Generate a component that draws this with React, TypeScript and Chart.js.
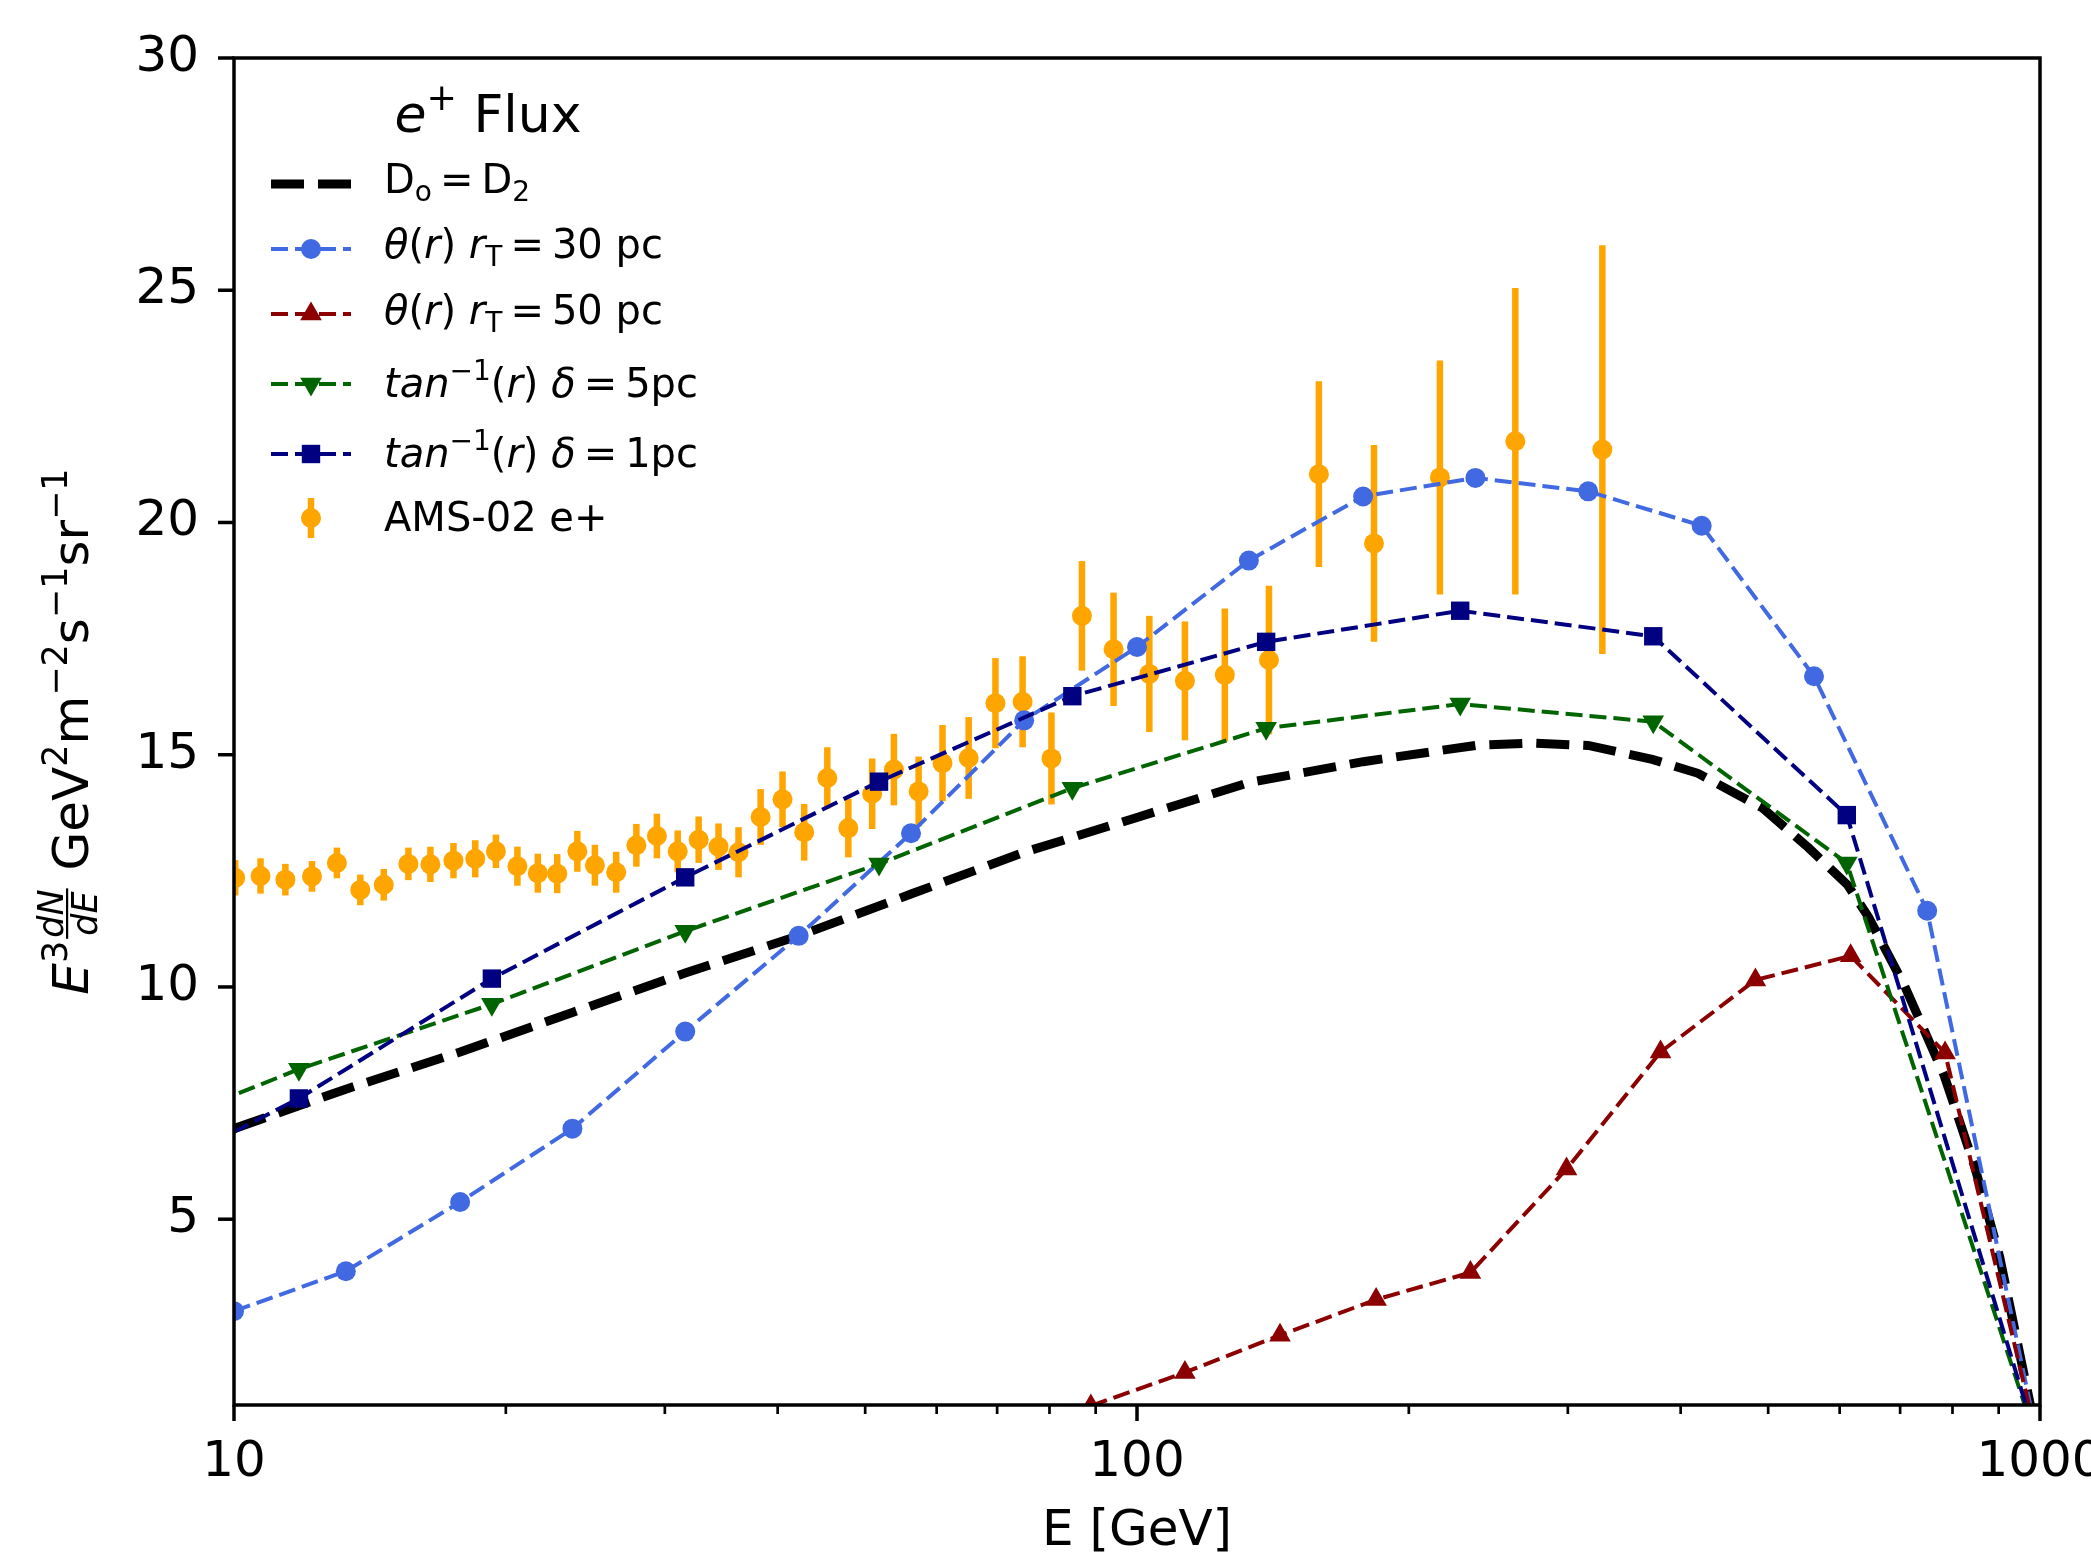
import React, { useEffect, useRef } from 'react';
import { Chart, registerables } from 'chart.js';

Chart.register(...registerables);

const FONT = '"DejaVu Sans", "Liberation Sans", sans-serif';

// ---------------- data ----------------
// D0 = D2 (thick black dashed curve)
const baseE = [10, 13.3, 17.8, 23.7, 31.6, 42.2, 56.2, 75, 100, 133, 178, 237, 273, 316, 372, 418, 493, 554, 612, 646, 707, 783, 846, 902, 1000];
const baseFlux = [6.95, 7.8, 8.6, 9.45, 10.3, 11.1, 12.0, 12.9, 13.65, 14.4, 14.85, 15.2, 15.25, 15.2, 14.9, 14.6, 13.85, 13.0, 12.2, 11.5, 10.05, 8.1, 6.15, 4.2, 0];

// theta(r) r_T = 30 pc
const theta30E = [10, 13.3, 17.8, 23.7, 31.6, 42.2, 56.2, 75, 100, 133, 178, 237, 316, 422, 562, 750, 1000];
const theta30Flux = [3.02, 3.88, 5.37, 6.95, 9.04, 11.1, 13.31, 15.74, 17.32, 19.18, 20.56, 20.96, 20.67, 19.93, 16.69, 11.64, 0];

// theta(r) r_T = 50 pc
const theta50E = [88.9, 113, 144, 184, 234, 299, 380, 484, 617, 785, 1000];
const theta50Flux = [0.98, 1.7, 2.5, 3.27, 3.85, 6.08, 8.6, 10.15, 10.67, 8.58, 0];

// tan^-1(r) models
const atanE = [7.2, 11.8, 19.3, 31.6, 51.8, 84.8, 139, 228, 373, 611, 1000];
const atan5Flux = [6.56, 8.23, 9.63, 11.2, 12.65, 14.28, 15.57, 16.09, 15.71, 12.67, 0];
const atan1Flux = [5.45, 7.6, 10.18, 12.36, 14.42, 16.26, 17.43, 18.1, 17.55, 13.7, 0];

// AMS-02 e+ data
const amsE = [10.03, 10.7, 11.4, 12.2, 13.0, 13.8, 14.65, 15.6, 16.5, 17.5, 18.5, 19.5, 20.6, 21.7, 22.8, 24.0, 25.1, 26.5, 27.9, 29.4, 31.0, 32.7, 34.4, 36.2, 38.3, 40.5, 42.8, 45.4, 47.9, 50.9, 53.8, 57.3, 60.9, 65.1, 69.7, 74.7, 80.4, 86.9, 94.2, 103.2, 113, 125.1, 140, 159, 183, 216.5, 262.4, 327.6];
const amsFlux = [12.35, 12.39, 12.31, 12.38, 12.67, 12.09, 12.2, 12.65, 12.64, 12.72, 12.76, 12.92, 12.6, 12.45, 12.44, 12.92, 12.62, 12.47, 13.05, 13.25, 12.92, 13.17, 13.02, 12.9, 13.66, 14.04, 13.33, 14.5, 13.42, 14.16, 14.68, 14.21, 14.82, 14.93, 16.11, 16.14, 14.92, 17.99, 17.27, 16.74, 16.59, 16.72, 17.04, 21.04, 19.55, 20.97, 21.75, 21.57];
const amsErr = [0.38, 0.38, 0.34, 0.33, 0.33, 0.33, 0.34, 0.35, 0.38, 0.38, 0.4, 0.36, 0.42, 0.42, 0.42, 0.44, 0.44, 0.44, 0.46, 0.48, 0.45, 0.5, 0.5, 0.54, 0.6, 0.6, 0.61, 0.66, 0.63, 0.76, 0.77, 0.75, 0.82, 0.88, 0.97, 0.98, 0.99, 1.18, 1.22, 1.25, 1.28, 1.43, 1.6, 2.0, 2.12, 2.52, 3.3, 4.4];

// ticks
const xMajorTicks = [10, 100, 1000];
const xMinorTicks = [20, 30, 40, 50, 60, 70, 80, 90, 200, 300, 400, 500, 600, 700, 800, 900];
const yTicks = [5, 10, 15, 20, 25, 30];

// ---------------- styles ----------------
const ORANGE = '#FFA500';
const ROYAL = '#4169E1';
const DARKRED = '#8B0000';
const DARKGREEN = '#006400';
const NAVY = '#000080';

type Run = { t?: string; i?: boolean; v?: 'sup' | 'sub'; frac?: [string, string] };

const EQ = '\u2009=\u2009';
const titleRuns: Run[] = [{ t: 'e', i: true }, { t: '+', v: 'sup' }, { t: ' Flux' }];
const yLabelRuns: Run[] = [
  { t: 'E', i: true }, { t: '3', v: 'sup' }, { frac: ['dN', 'dE'], i: true },
  { t: ' GeV' }, { t: '2', v: 'sup' }, { t: 'm' }, { t: '\u22122', v: 'sup' },
  { t: 's' }, { t: '\u22121', v: 'sup' }, { t: 'sr' }, { t: '\u22121', v: 'sup' },
];

type Handle = { kind: 'line' | 'err'; color: string; width?: number; dash?: number[]; marker?: string; r?: number };
const legendRows: { runs: Run[]; h: Handle }[] = [
  { runs: [{ t: 'D' }, { t: 'o', v: 'sub' }, { t: EQ + 'D' }, { t: '2', v: 'sub' }], h: { kind: 'line', color: '#000', width: 9, dash: [33, 14] } },
  { runs: [{ t: '\u03B8', i: true }, { t: '(' }, { t: 'r', i: true }, { t: ') ' }, { t: 'r', i: true }, { t: 'T', v: 'sub' }, { t: EQ + '30 pc' }], h: { kind: 'line', color: ROYAL, width: 4, dash: [17, 7], marker: 'circle', r: 10 } },
  { runs: [{ t: '\u03B8', i: true }, { t: '(' }, { t: 'r', i: true }, { t: ') ' }, { t: 'r', i: true }, { t: 'T', v: 'sub' }, { t: EQ + '50 pc' }], h: { kind: 'line', color: DARKRED, width: 4, dash: [17, 7], marker: 'up', r: 12.5 } },
  { runs: [{ t: 'tan', i: true }, { t: '\u22121', v: 'sup' }, { t: '(' }, { t: 'r', i: true }, { t: ') ' }, { t: '\u03B4', i: true }, { t: EQ + '5pc' }], h: { kind: 'line', color: DARKGREEN, width: 4, dash: [17, 7], marker: 'down', r: 12.5 } },
  { runs: [{ t: 'tan', i: true }, { t: '\u22121', v: 'sup' }, { t: '(' }, { t: 'r', i: true }, { t: ') ' }, { t: '\u03B4', i: true }, { t: EQ + '1pc' }], h: { kind: 'line', color: NAVY, width: 4, dash: [17, 7], marker: 'rect', r: 13 } },
  { runs: [{ t: 'AMS-02 e+' }], h: { kind: 'err', color: ORANGE, r: 10 } },
];

function fontStr(size: number, italic?: boolean) {
  return `${italic ? 'italic ' : ''}${size}px ${FONT}`;
}

function runWidth(ctx: CanvasRenderingContext2D, r: Run, S: number) {
  if (r.frac) {
    ctx.font = fontStr(S * 0.7, r.i);
    return Math.max(ctx.measureText(r.frac[0]).width, ctx.measureText(r.frac[1]).width) + S * 0.12;
  }
  ctx.font = fontStr(r.v ? S * 0.7 : S, r.i);
  return ctx.measureText(r.t || '').width;
}

function drawRuns(ctx: CanvasRenderingContext2D, runs: Run[], x: number, y: number, S: number, align: 'left' | 'center') {
  const widths = runs.map((r) => runWidth(ctx, r, S));
  const total = widths.reduce((a, b) => a + b, 0);
  let cx = align === 'center' ? x - total / 2 : x;
  ctx.fillStyle = '#000';
  ctx.textBaseline = 'alphabetic';
  runs.forEach((r, k) => {
    const w = widths[k];
    if (r.frac) {
      ctx.font = fontStr(S * 0.7, r.i);
      ctx.textAlign = 'center';
      const mid = cx + w / 2;
      ctx.fillText(r.frac[0], mid, y - S * 0.5);
      ctx.fillText(r.frac[1], mid, y + S * 0.17);
      ctx.fillRect(cx + S * 0.04, y - S * 0.42 - 1, w - S * 0.08, 2.2);
    } else {
      ctx.font = fontStr(r.v ? S * 0.7 : S, r.i);
      ctx.textAlign = 'left';
      const dy = r.v === 'sup' ? -S * 0.42 : r.v === 'sub' ? S * 0.2 : 0;
      ctx.fillText(r.t || '', cx, y + dy);
    }
    cx += w;
  });
}

function drawMarker(ctx: CanvasRenderingContext2D, kind: string, x: number, y: number, r: number, color: string) {
  ctx.fillStyle = color;
  ctx.beginPath();
  if (kind === 'circle') {
    ctx.arc(x, y, r, 0, Math.PI * 2);
  } else if (kind === 'up') {
    ctx.moveTo(x, y - r);
    ctx.lineTo(x + 0.866 * r, y + 0.5 * r);
    ctx.lineTo(x - 0.866 * r, y + 0.5 * r);
  } else if (kind === 'down') {
    ctx.moveTo(x, y + r);
    ctx.lineTo(x - 0.866 * r, y - 0.5 * r);
    ctx.lineTo(x + 0.866 * r, y - 0.5 * r);
  } else if (kind === 'rect') {
    const h = Math.SQRT1_2 * r;
    ctx.rect(x - h, y - h, 2 * h, 2 * h);
  }
  ctx.closePath();
  ctx.fill();
}

const bgPlugin = {
  id: 'bg',
  beforeDraw(chart: any) {
    const { ctx, width, height } = chart;
    ctx.save();
    ctx.fillStyle = '#fff';
    ctx.fillRect(0, 0, width, height);
    ctx.restore();
  },
};

const errorBarPlugin = {
  id: 'errBars',
  beforeDatasetsDraw(chart: any) {
    const { ctx, chartArea, scales } = chart;
    ctx.save();
    ctx.beginPath();
    ctx.rect(chartArea.left, chartArea.top, chartArea.right - chartArea.left, chartArea.bottom - chartArea.top);
    ctx.clip();
    ctx.strokeStyle = ORANGE;
    ctx.lineWidth = 6.5;
    amsE.forEach((e, k) => {
      const px = scales.x.getPixelForValue(e);
      ctx.beginPath();
      ctx.moveTo(px, scales.y.getPixelForValue(amsFlux[k] - amsErr[k]));
      ctx.lineTo(px, scales.y.getPixelForValue(amsFlux[k] + amsErr[k]));
      ctx.stroke();
    });
    ctx.restore();
  },
};

const framePlugin = {
  id: 'frame',
  afterDatasetsDraw(chart: any) {
    const { ctx, chartArea, scales } = chart;
    const { left, right, top, bottom } = chartArea;
    ctx.save();
    ctx.strokeStyle = '#000';
    ctx.setLineDash([]);
    // ticks
    ctx.lineWidth = 3.5;
    yTicks.forEach((v) => {
      const py = scales.y.getPixelForValue(v);
      ctx.beginPath();
      ctx.moveTo(left - 16, py);
      ctx.lineTo(left, py);
      ctx.stroke();
    });
    xMajorTicks.forEach((v) => {
      const px = scales.x.getPixelForValue(v);
      ctx.beginPath();
      ctx.moveTo(px, bottom);
      ctx.lineTo(px, bottom + 16);
      ctx.stroke();
    });
    ctx.lineWidth = 2.7;
    xMinorTicks.forEach((v) => {
      const px = scales.x.getPixelForValue(v);
      ctx.beginPath();
      ctx.moveTo(px, bottom);
      ctx.lineTo(px, bottom + 9);
      ctx.stroke();
    });
    // frame
    ctx.lineWidth = 3.5;
    ctx.strokeRect(left, top, right - left, bottom - top);

    // legend
    drawRuns(ctx, titleRuns, left + 254, top + 74, 52, 'center');
    const rowY = [126, 191, 256, 326, 396, 460];
    const textDy = [9, 9, 10, 13, 13, 13];
    legendRows.forEach((row, k) => {
      const y = top + rowY[k];
      const x0 = left + 37;
      const x1 = left + 117;
      const xm = left + 77;
      const h = row.h;
      if (h.kind === 'line') {
        ctx.save();
        ctx.strokeStyle = h.color;
        ctx.lineWidth = h.width || 4;
        ctx.setLineDash(h.dash || []);
        ctx.beginPath();
        ctx.moveTo(x0, y);
        ctx.lineTo(x1, y);
        ctx.stroke();
        ctx.restore();
        if (h.marker) drawMarker(ctx, h.marker, xm, y, h.r || 10, h.color);
      } else {
        ctx.save();
        ctx.strokeStyle = h.color;
        ctx.lineWidth = 6.5;
        ctx.beginPath();
        ctx.moveTo(xm, y - 20);
        ctx.lineTo(xm, y + 20);
        ctx.stroke();
        ctx.restore();
        drawMarker(ctx, 'circle', xm, y, h.r || 10, h.color);
      }
      drawRuns(ctx, row.runs, left + 150, y + textDy[k], 40, 'left');
    });

    // y-axis label
    ctx.save();
    ctx.translate(88, (top + bottom) / 2);
    ctx.rotate(-Math.PI / 2);
    drawRuns(ctx, yLabelRuns, 0, 0, 50, 'center');
    ctx.restore();

    ctx.restore();
  },
};

function pts(xs: number[], ys: number[]) {
  return xs.map((x, i) => ({ x, y: ys[i] }));
}

export default function App() {
  const ref = useRef<HTMLCanvasElement | null>(null);

  useEffect(() => {
    if (!ref.current) return;
    const lineDs = (label: string, xs: number[], ys: number[], color: string, style: string | false, radius: number, order: number, rotation = 0) => ({
      label,
      data: pts(xs, ys),
      showLine: true,
      borderColor: color,
      backgroundColor: color,
      borderWidth: 4,
      borderDash: [17, 7],
      pointStyle: style,
      pointRadius: style ? radius : 0,
      pointRotation: rotation,
      pointBackgroundColor: color,
      pointBorderColor: color,
      pointBorderWidth: 0,
      pointHoverRadius: radius,
      tension: 0,
      order,
    });

    const chart = new Chart(ref.current, {
      type: 'scatter',
      data: {
        datasets: [
          {
            label: 'AMS-02 e+',
            data: pts(amsE, amsFlux),
            showLine: false,
            pointStyle: 'circle',
            pointRadius: 10,
            pointBackgroundColor: ORANGE,
            pointBorderColor: ORANGE,
            pointBorderWidth: 0,
            order: 6,
          } as any,
          {
            label: 'D_o = D_2',
            data: pts(baseE, baseFlux),
            showLine: true,
            borderColor: '#000',
            borderWidth: 9,
            borderDash: [33, 14],
            pointRadius: 0,
            tension: 0,
            order: 5,
          } as any,
          lineDs('theta(r) rT=30 pc', theta30E, theta30Flux, ROYAL, 'circle', 10, 4) as any,
          lineDs('theta(r) rT=50 pc', theta50E, theta50Flux, DARKRED, 'triangle', 12.5, 3) as any,
          lineDs('tan^-1(r) delta=5pc', atanE, atan5Flux, DARKGREEN, 'triangle', 12.5, 2, 180) as any,
          lineDs('tan^-1(r) delta=1pc', atanE, atan1Flux, NAVY, 'rect', 13, 1) as any,
        ],
      },
      options: {
        animation: false,
        responsive: false,
        maintainAspectRatio: false,
        devicePixelRatio: 1,
        layout: { padding: { left: 0, top: 58, right: 51, bottom: 0 } },
        plugins: {
          legend: { display: false },
          tooltip: { enabled: false },
          title: { display: false },
        },
        scales: {
          x: {
            type: 'logarithmic',
            min: 10,
            max: 1000,
            afterBuildTicks: (s: any) => {
              s.ticks = xMajorTicks.map((v) => ({ value: v }));
            },
            afterFit: (s: any) => {
              s.height = 158;
              s.paddingLeft = 0;
              s.paddingRight = 0;
            },
            grid: { display: false, drawTicks: false },
            border: { display: false },
            ticks: {
              autoSkip: false,
              maxRotation: 0,
              minRotation: 0,
              padding: 28,
              color: '#000',
              font: { family: FONT, size: 50 },
              callback: (v: any) => String(v),
            },
            title: {
              display: true,
              text: 'E [GeV]',
              color: '#000',
              font: { family: FONT, size: 50 },
              padding: { top: 0, bottom: 1 },
            },
          },
          y: {
            type: 'linear',
            min: 1,
            max: 30,
            afterBuildTicks: (s: any) => {
              s.ticks = yTicks.map((v) => ({ value: v }));
            },
            afterFit: (s: any) => {
              s.width = 234;
              s.paddingTop = 0;
              s.paddingBottom = 0;
            },
            grid: { display: false, drawTicks: false },
            border: { display: false },
            ticks: {
              padding: 35,
              color: '#000',
              font: { family: FONT, size: 50 },
              callback: (v: any) => String(v),
            },
          },
        },
      } as any,
      plugins: [bgPlugin, errorBarPlugin, framePlugin],
    });
    return () => chart.destroy();
  }, []);

  return (
    <div style={{ position: 'absolute', left: 0, top: 0, width: 2091, height: 1563 }}>
      <canvas ref={ref} width={2091} height={1563} style={{ display: 'block' }} />
    </div>
  );
}
